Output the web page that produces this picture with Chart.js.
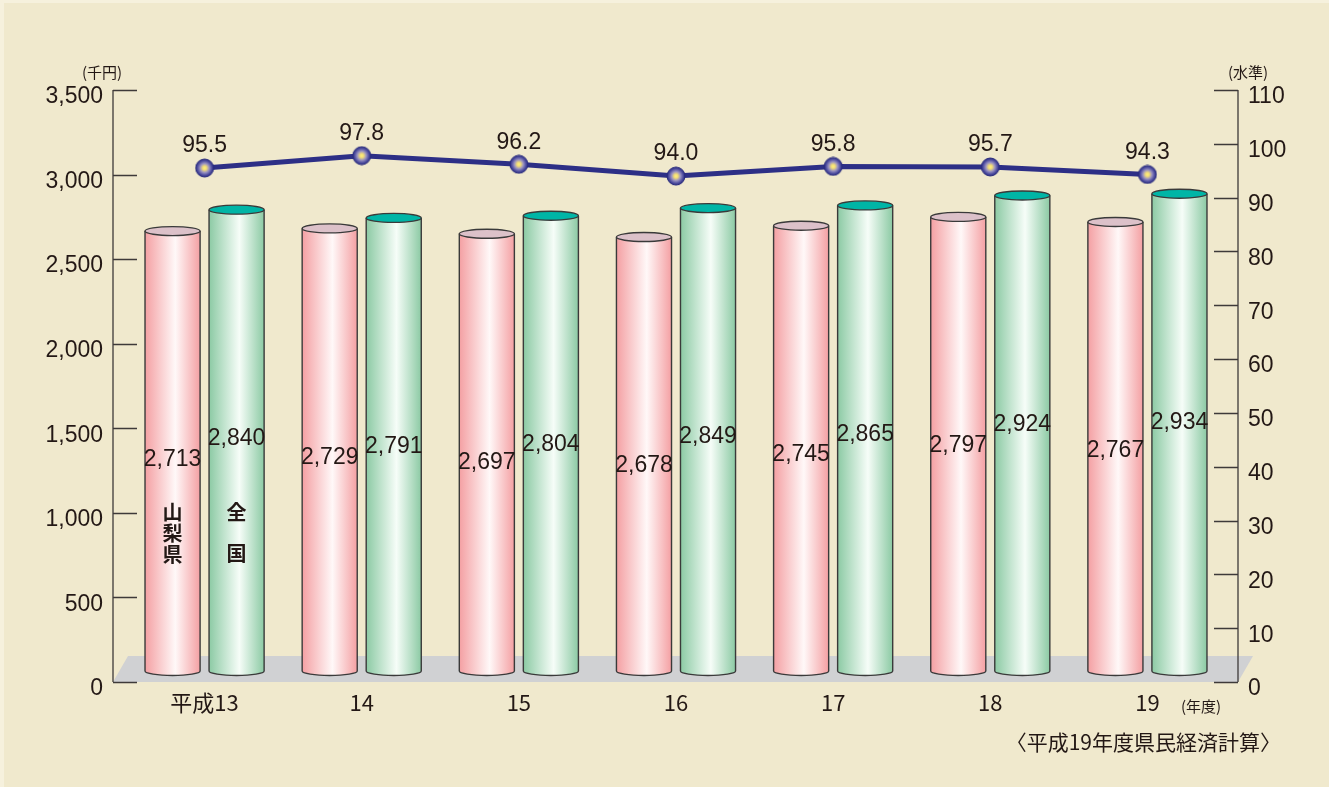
<!DOCTYPE html>
<html>
<head>
<meta charset="utf-8">
<script src="https://cdn.jsdelivr.net/npm/chart.js@4.4.1/dist/chart.umd.min.js"></script>
<style>
  html, body { margin: 0; padding: 0; background: #f6f1dd; }
  #wrap { position: absolute; left: 0; top: 0; width: 1329px; height: 787px; }
  canvas { display: block; }
</style>
</head>
<body>
<div id="wrap"><canvas id="c" width="1329" height="787"></canvas></div>
<script>
// ── データ
const years     = ['平成13', '14', '15', '16', '17', '18', '19'];
const yamanashi = [2713, 2729, 2697, 2678, 2745, 2797, 2767];   // 山梨県（千円）
const zenkoku   = [2840, 2791, 2804, 2849, 2865, 2924, 2934];   // 全国（千円）
const suijun    = [95.5, 97.8, 96.2, 94.0, 95.8, 95.7, 94.3];   // 水準
const leftTicks  = [0, 500, 1000, 1500, 2000, 2500, 3000, 3500];
const rightTicks = [0, 10, 20, 30, 40, 50, 60, 70, 80, 90, 100, 110];

const TXT = '#231815';
const NUM_FONT = '"Liberation Sans", Arial, "Noto Sans CJK JP", sans-serif';
const JP_FONT  = '"Noto Sans CJK JP", "Liberation Sans", sans-serif';
const fmtN = v => v.toLocaleString('en-US');

// ── 折れ線のマーカー（放射グラデーション）
function makeDot(r) {
  const cv = document.createElement('canvas');
  cv.width = cv.height = r * 2 + 2;
  const g = cv.getContext('2d');
  const cx = r + 1;
  const rg = g.createRadialGradient(cx, cx, 0, cx, cx, r);
  rg.addColorStop(0, '#fff27a');
  rg.addColorStop(0.22, '#f1dc78');
  rg.addColorStop(0.5, '#9a93c0');
  rg.addColorStop(0.8, '#4e4da0');
  rg.addColorStop(1, '#2a2c7e');
  g.fillStyle = rg;
  g.beginPath(); g.arc(cx, cx, r, 0, Math.PI * 2); g.fill();
  g.strokeStyle = '#2a2c7e';
  g.lineWidth = 1;
  g.stroke();
  return cv;
}
const dot = makeDot(9);

// ── 円柱・床・軸の描画
const cylPlugin = {
  id: 'cyl',
  beforeDatasetsDraw(chart) {
    const ctx = chart.ctx, ca = chart.chartArea;
    const yL = chart.scales.y, yR = chart.scales.y1;
    const axL = ca.left - 13, axR = ca.right + 12;
    const y0 = yL.getPixelForValue(0);

    ctx.save();
    // 床
    ctx.fillStyle = '#d0d1d3';
    ctx.beginPath();
    ctx.moveTo(axL + 15, y0 - 26);
    ctx.lineTo(axR + 15, y0 - 26);
    ctx.lineTo(axR, y0);
    ctx.lineTo(axL, y0);
    ctx.closePath();
    ctx.fill();

    // 軸
    ctx.strokeStyle = '#3e3a39';
    ctx.lineWidth = 1.3;
    ctx.beginPath();
    ctx.moveTo(axL, yL.getPixelForValue(3500)); ctx.lineTo(axL, y0);
    leftTicks.forEach(t => { const py = Math.round(yL.getPixelForValue(t)) + 0.5; ctx.moveTo(axL, py); ctx.lineTo(axL + 24, py); });
    ctx.moveTo(axR, yR.getPixelForValue(110)); ctx.lineTo(axR, yR.getPixelForValue(0));
    rightTicks.forEach(t => { const py = Math.round(yR.getPixelForValue(t)) + 0.5; ctx.moveTo(axR, py); ctx.lineTo(axR - 24, py); });
    ctx.stroke();

    // 円柱
    const styles = [
      { edge: '#f4a0a3', mid: '#fff8f8', cap: '#dcc1c9' },
      { edge: '#8ccaa4', mid: '#f6fdf8', cap: '#00b5a6' }
    ];
    [0, 1].forEach(di => {
      const st = styles[di];
      chart.getDatasetMeta(di).data.forEach(bar => {
        const w = bar.width, x = bar.x - w / 2;
        const top = bar.y + 8, bot = bar.base - 11, ry = 4.5;
        const gr = ctx.createLinearGradient(x, 0, x + w, 0);
        gr.addColorStop(0, st.edge);
        gr.addColorStop(0.55, st.mid);
        gr.addColorStop(1, st.edge);
        ctx.fillStyle = gr;
        ctx.beginPath();
        ctx.moveTo(x, top);
        ctx.lineTo(x, bot);
        ctx.ellipse(bar.x, bot, w / 2, ry, 0, Math.PI, 0, true);
        ctx.lineTo(x + w, top);
        ctx.closePath();
        ctx.fill();
        ctx.strokeStyle = '#3a3a3a';
        ctx.lineWidth = 1.4;
        ctx.beginPath();
        ctx.moveTo(x, top); ctx.lineTo(x, bot);
        ctx.ellipse(bar.x, bot, w / 2, ry, 0, Math.PI, 0, true);
        ctx.lineTo(x + w, top);
        ctx.stroke();
        ctx.fillStyle = st.cap;
        ctx.beginPath();
        ctx.ellipse(bar.x, top, w / 2, ry, 0, 0, Math.PI * 2);
        ctx.fill();
        ctx.stroke();
      });
    });
    ctx.restore();
  },
  afterDatasetsDraw(chart) {
    const ctx = chart.ctx, ca = chart.chartArea;
    ctx.save();
    ctx.fillStyle = TXT;
    ctx.textAlign = 'center';
    ctx.textBaseline = 'middle';
    ctx.font = '23px ' + NUM_FONT;
    // 棒の数値
    [[0, yamanashi], [1, zenkoku]].forEach(([di, vals]) => {
      chart.getDatasetMeta(di).data.forEach((bar, i) => {
        ctx.fillText(fmtN(vals[i]), bar.x, bar.y + 237);
      });
    });
    // 水準の数値
    chart.getDatasetMeta(2).data.forEach((pt, i) => {
      ctx.fillText(suijun[i].toFixed(1), pt.x, pt.y - 22);
    });

    // 凡例（縦書き）
    const b0 = chart.getDatasetMeta(0).data[0], b1 = chart.getDatasetMeta(1).data[0];
    ctx.font = 'bold 20px ' + JP_FONT;
    ['山', '梨', '県'].forEach((ch, k) => ctx.fillText(ch, b0.x, 512 + k * 21));
    ctx.fillText('全', b1.x, 512);
    ctx.fillText('国', b1.x, 553);

    // 単位・出典
    ctx.font = '15px ' + JP_FONT;
    ctx.fillText('(千円)', ca.left - 24, 72);
    ctx.fillText('(水準)', ca.right + 22, 72);
    ctx.fillText('(年度)', ca.right - 25, 706);
    ctx.font = '21px ' + JP_FONT;
    ctx.textAlign = 'right';
    ctx.fillText('〈平成19年度県民経済計算〉', 1281, 742);
    ctx.restore();
  }
};

const bgPlugin = {
  id: 'bg',
  beforeDraw(chart) {
    const ctx = chart.ctx;
    ctx.save();
    ctx.fillStyle = '#f6f1dd';
    ctx.fillRect(0, 0, chart.width, chart.height);
    ctx.fillStyle = '#f0e9cd';
    ctx.fillRect(4, 3, chart.width - 4, chart.height - 3);
    ctx.restore();
  }
};

new Chart(document.getElementById('c').getContext('2d'), {
  type: 'bar',
  data: {
    labels: years,
    datasets: [
      { label: '山梨県', data: yamanashi, yAxisID: 'y', backgroundColor: 'rgba(0,0,0,0)', borderWidth: 0,
        categoryPercentage: 0.815, barPercentage: 0.86, order: 2 },
      { label: '全国', data: zenkoku, yAxisID: 'y', backgroundColor: 'rgba(0,0,0,0)', borderWidth: 0,
        categoryPercentage: 0.815, barPercentage: 0.86, order: 2 },
      { type: 'line', label: '水準', data: suijun, yAxisID: 'y1', borderColor: '#2d2f86', borderWidth: 5,
        pointStyle: dot, pointRadius: 9, tension: 0, order: 1 }
    ]
  },
  options: {
    responsive: false,
    animation: false,
    layout: { padding: { top: 90, bottom: 0, left: 0, right: 0 } },
    plugins: { legend: { display: false }, tooltip: { enabled: false } },
    scales: {
      x: {
        grid: { display: false, drawTicks: false },
        border: { display: false },
        ticks: { color: TXT, font: { size: 22, family: JP_FONT }, padding: 7, maxRotation: 0 },
        afterFit: s => { s.height = 105; }
      },
      y: {
        position: 'left', min: 0, max: 3500,
        grid: { display: false, drawTicks: false },
        border: { display: false },
        afterBuildTicks: s => { s.ticks = leftTicks.map(v => ({ value: v })); },
        ticks: { color: TXT, font: { size: 23, family: NUM_FONT }, padding: 23, labelOffset: 7,
          callback: v => fmtN(v) },
        afterFit: s => { s.width = 126; }
      },
      y1: {
        position: 'right', min: 0, max: 110,
        grid: { display: false, drawTicks: false },
        border: { display: false },
        afterBuildTicks: s => { s.ticks = rightTicks.map(v => ({ value: v })); },
        ticks: { color: TXT, font: { size: 23, family: NUM_FONT }, padding: 22, labelOffset: 7 },
        afterFit: s => { s.width = 103; }
      }
    }
  },
  plugins: [bgPlugin, cylPlugin]
});
</script>
</body>
</html>
